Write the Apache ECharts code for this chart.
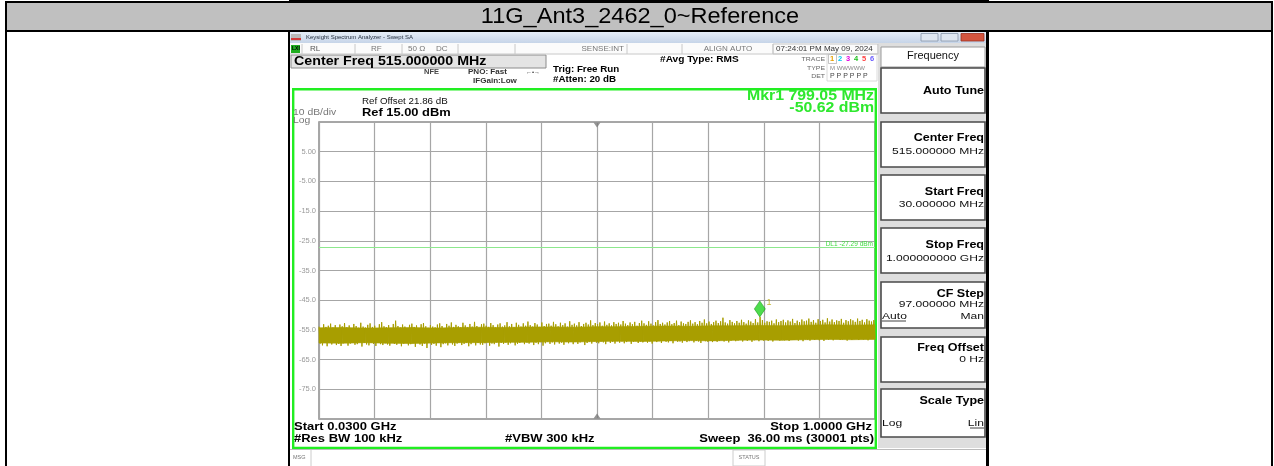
<!DOCTYPE html>
<html><head><meta charset="utf-8">
<script src="https://cdn.jsdelivr.net/npm/echarts@6/dist/echarts.min.js"></script>
<style>html,body{margin:0;padding:0;background:#fff}#c{width:1274px;height:466px}</style>
</head><body><div id="c"></div>
<script>
// ---------------- data ----------------
const chartTitle = '11G_Ant3_2462_0~Reference';
const startFreqMHz = 30;
const stopFreqMHz = 1000;
const centerFreqMHz = 515;
const refLevel = 15;
const dbPerDiv = 10;
const divisions = 10;
const yTickLabels = ['5.00','-5.00','-15.0','-25.0','-35.0','-45.0','-55.0','-65.0','-75.0'];
const displayLine = -27.29;
const marker = [799.05, -50.62];
// dense core of the noise band (evenly spaced across the span)
const bandTopDbm = [-54.3,-54.2,-54.4,-54.3,-54.2,-54.4,-54.2,-54.1,-54.2,-54.0,-54.0,-54.1,-53.9,-53.9,-53.8,-53.7,-53.8,-53.6,-53.6,-53.5,-53.6,-53.4,-53.3,-53.4,-53.3];
const bandBottomDbm = [-59.4,-59.5,-59.3,-59.5,-59.6,-59.4,-59.3,-59.3,-59.2,-59.2,-59.0,-59.1,-58.9,-58.8,-58.9,-58.7,-58.6,-58.7,-58.5,-58.4,-58.5,-58.3,-58.2,-58.3,-58.2];
// trace peaks/troughs (evenly spaced across the span)
const traceDbm = [
-53.9,-59.6,-54.4,-60.2,-53.1,-59.1,-54.0,-60.5,-53.6,-59.4,-52.9,-59.9,-54.2,-59.2,-53.4,-60.1,-54.6,-59.7,-53.2,-60.4,
-53.8,-59.5,-52.7,-59.0,-54.1,-60.3,-53.5,-59.6,-54.5,-59.3,-53.0,-60.0,-53.7,-59.8,-54.3,-59.1,-52.6,-60.6,-53.9,-59.4,
-54.2,-59.9,-53.3,-60.2,-52.8,-59.3,-54.0,-59.7,-53.6,-60.4,-54.4,-59.0,-53.1,-59.8,-52.4,-60.1,-53.8,-59.5,-54.1,-59.9,
-53.4,-60.3,-54.3,-59.2,-53.0,-59.7,-51.9,-60.0,-53.7,-59.4,-54.2,-60.5,-53.2,-59.6,-53.9,-59.1,-54.5,-60.2,-53.3,-59.8,
-52.9,-59.5,-54.0,-60.7,-53.5,-59.3,-54.6,-59.9,-53.1,-60.4,-52.7,-59.6,-53.8,-61.1,-54.3,-59.2,-53.4,-60.0,-53.9,-59.7,
-54.1,-60.3,-53.2,-59.4,-52.8,-60.8,-53.7,-59.8,-54.4,-59.5,-53.0,-60.2,-53.6,-59.1,-52.5,-59.9,-54.0,-60.4,-53.3,-59.6,
-53.8,-59.2,-54.2,-60.1,-52.6,-59.7,-53.5,-59.3,-54.1,-60.5,-53.0,-59.8,-53.9,-59.0,-52.3,-60.2,-53.7,-59.4,-54.3,-59.9,
-53.1,-60.0,-52.9,-59.5,-53.6,-59.1,-54.0,-60.3,-52.7,-59.6,-53.4,-59.8,-54.2,-59.2,-53.2,-60.6,-52.8,-59.4,-53.9,-59.7,
-53.5,-59.3,-52.4,-60.0,-53.8,-59.5,-53.0,-59.1,-54.1,-60.2,-52.6,-59.7,-53.3,-59.4,-53.9,-58.9,-52.8,-59.8,-53.6,-59.2,
-52.2,-59.6,-53.4,-59.0,-53.9,-60.1,-52.7,-59.3,-53.2,-59.8,-54.0,-59.1,-52.5,-60.3,-53.7,-59.5,-53.0,-59.0,-52.9,-59.7,
-53.6,-59.2,-52.3,-59.9,-53.1,-58.8,-53.8,-59.6,-52.6,-59.3,-53.4,-60.0,-52.8,-59.1,-53.9,-59.5,-52.1,-58.9,-53.3,-59.8,
-52.9,-59.0,-53.5,-59.7,-52.4,-59.2,-53.7,-58.8,-53.0,-60.1,-52.6,-59.4,-53.2,-59.0,-51.8,-59.6,-53.4,-58.9,-52.7,-59.3,
-53.1,-59.5,-52.5,-58.9,-53.6,-59.2,-52.2,-59.8,-53.3,-58.7,-52.8,-59.4,-53.5,-59.0,-52.4,-59.6,-53.0,-58.8,-52.6,-59.3,
-53.2,-58.9,-52.0,-59.5,-52.9,-59.1,-53.4,-58.6,-52.5,-59.7,-53.1,-59.0,-52.3,-58.8,-53.6,-59.4,-52.7,-58.9,-51.9,-59.2,
-52.8,-58.7,-53.3,-59.3,-52.1,-58.9,-52.9,-59.6,-53.5,-58.5,-52.4,-59.1,-51.7,-58.8,-53.0,-59.4,-52.6,-58.6,-53.2,-59.0,
-52.5,-59.2,-52.0,-58.7,-53.1,-59.5,-52.7,-58.4,-51.9,-59.0,-53.4,-58.9,-52.2,-59.3,-52.8,-58.6,-53.0,-59.1,-52.3,-58.8,
-51.8,-58.5,-52.9,-59.2,-52.4,-58.7,-53.1,-58.9,-52.0,-59.4,-52.6,-58.3,-51.5,-58.8,-52.8,-59.0,-52.2,-58.6,-53.0,-59.1,
-52.4,-58.4,-51.9,-59.0,-52.7,-58.7,-52.1,-58.3,-50.9,-58.9,-52.5,-58.5,-52.9,-59.2,-51.7,-58.6,-52.3,-58.2,-52.8,-58.8,
-52.0,-58.6,-52.6,-58.1,-51.6,-58.9,-52.4,-58.4,-52.9,-58.7,-51.8,-58.2,-52.2,-59.0,-52.7,-58.5,-51.4,-58.3,-52.5,-58.8,
-50.62,-58.0,-51.7,-58.6,-52.6,-58.3,-52.1,-58.7,-52.3,-58.1,-51.9,-58.9,-52.8,-58.4,-51.5,-58.0,-52.4,-58.6,-52.0,-58.2,
-51.6,-58.5,-52.5,-57.9,-51.8,-58.7,-52.2,-58.2,-51.3,-58.4,-52.7,-57.8,-51.9,-58.6,-52.4,-58.1,-51.5,-58.8,-52.1,-57.9,
-51.9,-58.3,-51.2,-58.6,-52.3,-57.7,-51.7,-58.4,-52.6,-58.0,-51.4,-58.5,-52.0,-57.8,-51.6,-58.7,-52.5,-58.1,-51.1,-58.3,
-52.2,-57.9,-51.5,-58.5,-52.4,-58.0,-51.8,-57.6,-52.0,-58.4,-51.3,-58.2,-52.6,-57.8,-51.7,-58.6,-52.1,-57.7,-51.4,-58.3,
-51.8,-58.1,-52.3,-57.6,-51.2,-58.4,-52.0,-57.9,-51.6,-58.2,-52.5,-57.7,-51.4,-58.5,-51.9,-58.0,-52.2,-57.6,-51.7,-58.1
];

// ---------------- helpers ----------------
const FF = '"Liberation Sans", Arial, sans-serif';
const SX = 1.15;
const g = [];
function R(x,y,w,h,fill,stroke,lw){ g.push({type:'rect', silent:true, z:1, shape:{x:x,y:y,width:w,height:h}, style:{fill: fill||'none', stroke: stroke||'none', lineWidth: lw||0}}); }
function L(x1,y1,x2,y2,color,lw){ g.push({type:'line', silent:true, z:2, shape:{x1:x1,y1:y1,x2:x2,y2:y2}, style:{stroke:color, lineWidth:lw||1}}); }
function T(x,y,text,fs,o){ o=o||{}; g.push({type:'text', silent:true, z:5, x:x, y:y, scaleX: o.sx===undefined?SX:o.sx,
  style:{text:text, fontSize:fs, fontFamily:FF, fontWeight:o.w||'normal', fill:o.c||'#000',
  align:o.a||'left', textAlign:o.a||'left', verticalAlign:'middle', textVerticalAlign:'middle'}}); }

// page frame + title band
R(5,1,1268,2,'#000');
R(289,0,700,2,'#000');
R(7,3,1264,27,'#c0c0c0');
R(5,30,1268,2,'#000');
R(5,1,2,465,'#000');
R(1271,1,2,465,'#000');
T(640,17,chartTitle,22,{a:'center', sx:1.07, c:'#000'});

// screenshot frame
R(288,32,2,434,'#000');
R(986,32,3,434,'#000');
// window title bar
g.push({type:'rect', silent:true, z:1, shape:{x:290,y:32,width:696,height:11}, style:{fill:new echarts.graphic.LinearGradient(0,0,0,1,[{offset:0,color:'#e6eef8'},{offset:1,color:'#c6d4e8'}])}});
R(291,34,10,7,'#b9b9b9'); R(291,38,10,2,'#d23a3a');
T(306,37.5,'Keysight Spectrum Analyzer - Swept SA',6,{c:'#1f2a3a', sx:1});
R(921,33.5,17,7.5,'#dfe7f1','#8796a8',0.8);
R(941,33.5,17,7.5,'#dfe7f1','#8796a8',0.8);
R(961,33.5,23,7.5,'#d4553f','#9a3020',0.8);
// status row
R(290,43,588,11,'#fbfbfb');
L(290,54,878,54,'#c8c8c8',1);
R(291,45,9,8,'#1fae1f');
T(292,49,'LXI',5,{c:'#000', w:'bold', sx:1});
[302,355,402,458,515,627,682,773,878].forEach(x=>L(x,44,x,54,'#c8c8c8',1));
T(310,49,'RL',7,{c:'#555'});
T(371,49,'RF',7,{c:'#777'});
T(408,49,'50 Ω',7,{c:'#777'});
T(436,49,'DC',7,{c:'#777'});
T(624,49,'SENSE:INT',7,{c:'#777', a:'right'});
T(728,49,'ALIGN AUTO',7,{c:'#777', a:'center'});
R(773,44,105,10,'none','#bbb',0.8);
T(776,49,'07:24:01 PM May 09, 2024',7,{c:'#333'});
// header info
R(291,55,255,13,'#e4e4e4','#8c8c8c',1);
T(294,61.5,'Center Freq 515.000000 MHz',12.4,{w:'bold'});
T(424,72,'NFE',6.5,{w:'bold', c:'#444'});
T(468,72,'PNO: Fast',7,{w:'bold', c:'#333'});
T(526,72,'\u2190\u2022\u2192',6,{c:'#333', sx:1});
T(473,81,'IFGain:Low',7,{w:'bold', c:'#333'});
T(553,69.5,'Trig: Free Run',8.5,{w:'bold'});
T(553,80,'#Atten: 20 dB',8.5,{w:'bold'});
T(660,60,'#Avg Type: RMS',8.8,{w:'bold'});
R(827,54,50,27,'none','#d0d0d0',0.8);
T(825,59,'TRACE',6,{c:'#666', a:'right'});
T(825,68,'TYPE',6,{c:'#666', a:'right'});
T(825,76,'DET',6,{c:'#666', a:'right'});
R(828.5,54.5,8,9,'none','#aaa',0.7);
const trColors = ['#e8a000','#00c8f0','#e000e0','#20c020','#ff4040','#6a5cff'];
trColors.forEach((c,i)=>T(830+i*8,59,String(i+1),7.5,{c:c, w:'bold', sx:1}));
T(830,68,'M WWWWW',6,{c:'#888', sx:1});
T(830,76,'P P P P P P',7,{c:'#444', sx:1});

// display area (green)
R(293.2,89.2,582.6,358.8,'none','#22ee22',2.4);
T(362,101.5,'Ref Offset 21.86 dB',8.5,{c:'#111'});
T(362,112.5,'Ref 15.00 dBm',11.2,{w:'bold'});
T(293,113,'10 dB/div',9,{c:'#777'});
T(293,120.5,'Log',9,{c:'#777'});
T(874,96.5,'Mkr1 799.05 MHz',13.8,{w:'bold', c:'#2ee82e', a:'right'});
T(874,108.5,'-50.62 dBm',13.8,{w:'bold', c:'#2ee82e', a:'right'});
T(294,427,'Start 0.0300 GHz',11.3,{w:'bold'});
T(294,438.5,'#Res BW 100 kHz',11.3,{w:'bold'});
T(505,438.5,'#VBW 300 kHz',11.3,{w:'bold'});
T(872,427,'Stop 1.0000 GHz',11.3,{w:'bold', a:'right'});
T(874,438.5,'Sweep  36.00 ms (30001 pts)',11.3,{w:'bold', a:'right'});

// bottom message row
L(290,449.5,986,449.5,'#bbb',1);
T(293,457.5,'MSG',5.5,{c:'#777', sx:1});
L(311,450,311,466,'#ccc',1);
R(733,450,32,16,'none','#ccc',1);
T(749,457.5,'STATUS',5.5,{c:'#777', a:'center', sx:1});

// right soft-key panel
R(878,43,108,405,'#dedede');
R(881,47,104,20,'#fff','#9a9a9a',1);
T(933,56.5,'Frequency',10,{a:'center', c:'#111', sx:1.1});
const boxes = [[68,113],[122,167],[175,220],[228,273],[282,328],[337,382],[389,437]];
boxes.forEach(b=>R(881,b[0],104,b[1]-b[0],'#fff','#4a4a4a',1.6));
const KS = 1.12, VS = 1.3, VF = 9.3;
T(984,91,'Auto Tune',11.2,{w:'bold', a:'right', sx:KS});
T(984,138,'Center Freq',11.2,{w:'bold', a:'right', sx:KS});
T(984,151,'515.000000 MHz',VF,{a:'right', c:'#111', sx:VS});
T(984,192,'Start Freq',11.2,{w:'bold', a:'right', sx:KS});
T(984,204.5,'30.000000 MHz',VF,{a:'right', c:'#111', sx:VS});
T(984,245,'Stop Freq',11.2,{w:'bold', a:'right', sx:KS});
T(984,258.5,'1.000000000 GHz',VF,{a:'right', c:'#111', sx:VS});
T(984,293.5,'CF Step',11.2,{w:'bold', a:'right', sx:KS});
T(984,304.5,'97.000000 MHz',VF,{a:'right', c:'#111', sx:VS});
T(882,316,'Auto',VF,{c:'#111', sx:VS}); L(882,321,906,321,'#111',0.8);
T(984,316,'Man',VF,{a:'right', c:'#111', sx:VS});
T(984,347.5,'Freq Offset',11.2,{w:'bold', a:'right', sx:KS});
T(984,359.5,'0 Hz',VF,{a:'right', c:'#111', sx:VS});
T(984,401,'Scale Type',11.2,{w:'bold', a:'right', sx:KS});
T(882,423,'Log',VF,{c:'#111', sx:VS});
T(984,423,'Lin',VF,{a:'right', c:'#111', sx:VS}); L(970,428,984,428,'#111',0.8);

// ---------------- chart ----------------
const span = stopFreqMHz - startFreqMHz;
const traceData = traceDbm.map((v,i)=>[startFreqMHz + i*span/(traceDbm.length-1), v]);
const bandData = bandTopDbm.map((v,i)=>[startFreqMHz + i*span/(bandTopDbm.length-1), v, bandBottomDbm[i]]);
const bottomLevel = refLevel - dbPerDiv*divisions;
const traceColor = '#a89e00';

function renderBand(params, api){
  const i = params.dataIndex;
  if (i >= bandData.length - 1) return null;
  const a = bandData[i], b = bandData[i+1];
  const pts = [api.coord([a[0], a[1]]), api.coord([b[0], b[1]]), api.coord([b[0], b[2]]), api.coord([a[0], a[2]])];
  return {type:'polygon', shape:{points:pts}, style:{fill:traceColor, stroke:traceColor, lineWidth:0.6}};
}

const chart = echarts.init(document.getElementById('c'), null, {renderer:'canvas'});
chart.setOption({
  animation:false,
  backgroundColor:'#fff',
  grid:{left:319, top:122, width:556, height:297, show:true, backgroundColor:'#fff', borderColor:'#8a8a8a', borderWidth:1.5},
  xAxis:[
    {type:'value', min:0, max:divisions, interval:1, axisLine:{show:false}, axisTick:{show:false}, axisLabel:{show:false},
     splitLine:{show:true, lineStyle:{color:'#a6a6a6', width:1.2}}},
    {type:'value', min:startFreqMHz, max:stopFreqMHz, show:false, splitLine:{show:false}}
  ],
  yAxis:[
    {type:'value', min:0, max:divisions, interval:1, axisLine:{show:false}, axisTick:{show:false},
     axisLabel:{show:true, fontSize:7.5, color:'#9a9a9a', margin:3, fontFamily:FF,
       formatter:function(v){ return (v>=1 && v<=9) ? yTickLabels[9-v] : ''; }},
     splitLine:{show:true, lineStyle:{color:'#a6a6a6', width:1.2}}},
    {type:'value', min:bottomLevel, max:refLevel, show:false, splitLine:{show:false}}
  ],
  series:[
    {type:'custom', xAxisIndex:1, yAxisIndex:1, data:bandData, renderItem:renderBand, z:2, silent:true,
     encode:{x:0, y:[1,2]}},
    {type:'line', xAxisIndex:1, yAxisIndex:1, data:traceData, symbol:'none', sampling:null,
     lineStyle:{color:traceColor, width:1}, z:3,
     markLine:{silent:true, symbol:'none', animation:false,
       lineStyle:{color:'#8de88d', width:1, type:'solid'},
       label:{show:true, position:'insideEndTop', distance:[2,0], fontSize:6.5, color:'#3fdc3f', fontFamily:FF,
         formatter:'DL1 ' + displayLine.toFixed(2) + ' dBm'},
       data:[{yAxis:displayLine}]}},
    {type:'scatter', xAxisIndex:1, yAxisIndex:1, clip:false, z:6, data:[marker], symbol:'diamond', symbolSize:[11,16], symbolOffset:[0,-8],
     itemStyle:{color:'#21d321', borderColor:'#0f8a0f', borderWidth:0.6},
     label:{show:true, formatter:'1', position:'right', distance:1, offset:[0,-6], fontSize:9, color:'#b7a800', fontFamily:FF}},
    {type:'scatter', xAxisIndex:1, yAxisIndex:1, clip:false, z:6, symbol:'triangle', symbolSize:[7,5],
     itemStyle:{color:'#7a7a7a'},
     data:[{value:[centerFreqMHz, refLevel], symbolRotate:180, symbolOffset:[0,3]},
           {value:[centerFreqMHz, bottomLevel], symbolOffset:[0,-3]}]}
  ],
  graphic:{elements:g}
});
</script></body></html>
